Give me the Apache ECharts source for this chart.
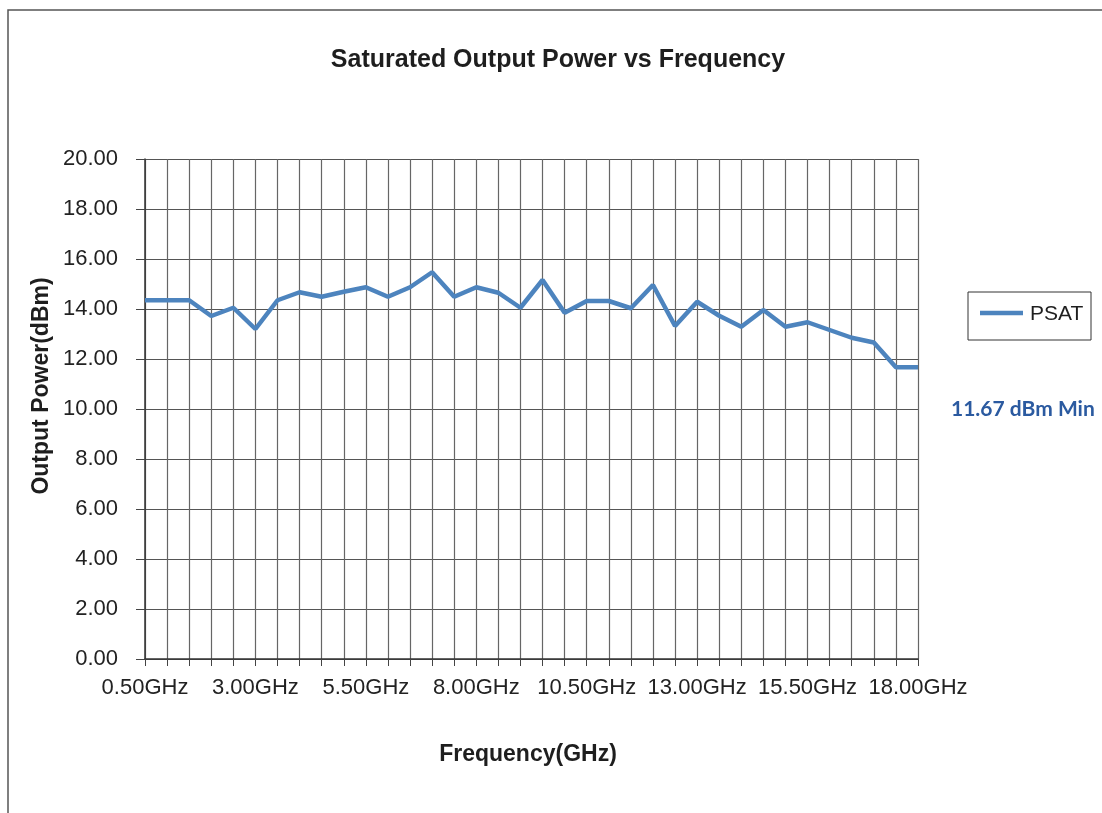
<!DOCTYPE html>
<html>
<head>
<meta charset="utf-8">
<script src="https://cdn.jsdelivr.net/npm/echarts@6/dist/echarts.min.js"></script>
<style>
html,body{margin:0;padding:0;background:#fff;}
#chart{width:1102px;height:813px;}
</style>
</head>
<body>
<div id="chart"></div>
<script>
const freqs = [0.5,1.0,1.5,2.0,2.5,3.0,3.5,4.0,4.5,5.0,5.5,6.0,6.5,7.0,7.5,8.0,8.5,9.0,9.5,10.0,10.5,11.0,11.5,12.0,12.5,13.0,13.5,14.0,14.5,15.0,15.5,16.0,16.5,17.0,17.5,18.0];
const psat = [14.35,14.35,14.35,13.72,14.05,13.20,14.35,14.67,14.49,14.69,14.87,14.49,14.87,15.47,14.49,14.87,14.65,14.05,15.16,13.85,14.32,14.32,14.03,14.96,13.32,14.29,13.73,13.29,13.96,13.29,13.47,13.16,12.85,12.66,11.67,11.67];
const categories = freqs.map(f => f.toFixed(2) + 'GHz');
const titleText = 'Saturated Output Power vs Frequency';
const xTitle = 'Frequency(GHz)';
const yTitle = 'Output Power(dBm)';
const seriesName = 'PSAT';
const minNote = '11.67 dBm Min';

const chart = echarts.init(document.getElementById('chart'), null, {renderer:'canvas'});
const font = 'Liberation Sans, Arial, sans-serif';
chart.setOption({
  backgroundColor:'#fff',
  animation:false,
  title:{
    text:titleText, left:553, top:43, textAlign:'center',
    textStyle:{fontFamily:font, fontSize:25, fontWeight:'bold', color:'#1e1e1e'}
  },
  grid:{left:145, right:184, top:159, bottom:154, containLabel:false},
  xAxis:{
    type:'category', data:categories, boundaryGap:false,
    axisLine:{lineStyle:{color:'#333', width:1.5}},
    axisTick:{show:true, interval:0, length:7, lineStyle:{color:'#444'}},
    axisLabel:{interval:4, fontFamily:font, fontSize:22, color:'#222', margin:18},
    splitLine:{show:true, interval:0, lineStyle:{color:'#666', width:1.2}}
  },
  yAxis:{
    type:'value', min:0, max:20, interval:2,
    axisLine:{show:true, lineStyle:{color:'#333', width:1.5}},
    axisTick:{show:true, length:9, lineStyle:{color:'#444'}},
    axisLabel:{fontFamily:font, fontSize:22, color:'#222', margin:27, formatter:v=>v.toFixed(2)},
    splitLine:{show:true, lineStyle:{color:'#555', width:1.2}}
  },
  series:[{
    name:seriesName, type:'line', data:psat, showSymbol:false, symbol:'none',
    lineStyle:{color:'#4D84BE', width:4.5}, itemStyle:{color:'#4D84BE'}
  }],
  graphic:[
    {type:'rect', shape:{x:8, y:10, width:1200, height:900}, style:{fill:'none', stroke:'#555', lineWidth:1.5}, silent:true},
    {type:'text', x:528, y:755, style:{text:xTitle, fontFamily:font, fontSize:23, fontWeight:'bold', fill:'#1e1e1e', textAlign:'center', textVerticalAlign:'middle'}},
    {type:'text', x:42, y:386, rotation:Math.PI/2, style:{text:yTitle, fontFamily:font, fontSize:23, fontWeight:'bold', fill:'#1e1e1e', textAlign:'center', textVerticalAlign:'middle'}},
    {type:'rect', shape:{x:968, y:292, width:123, height:48}, style:{fill:'#fff', stroke:'#333', lineWidth:1}},
    {type:'line', shape:{x1:980, y1:313, x2:1023, y2:313}, style:{stroke:'#4D84BE', lineWidth:4.5}},
    {type:'text', x:1030, y:314, style:{text:seriesName, fontFamily:font, fontSize:21, fill:'#1e1e1e', textAlign:'left', textVerticalAlign:'middle'}},
    {type:'text', x:951, y:409, style:{text:minNote, fontFamily:'Lato, Open Sans, sans-serif', fontSize:21, fontWeight:'bold', fill:'#2B5AA0', textAlign:'left', textVerticalAlign:'middle'}}
  ]
});
</script>
</body>
</html>
